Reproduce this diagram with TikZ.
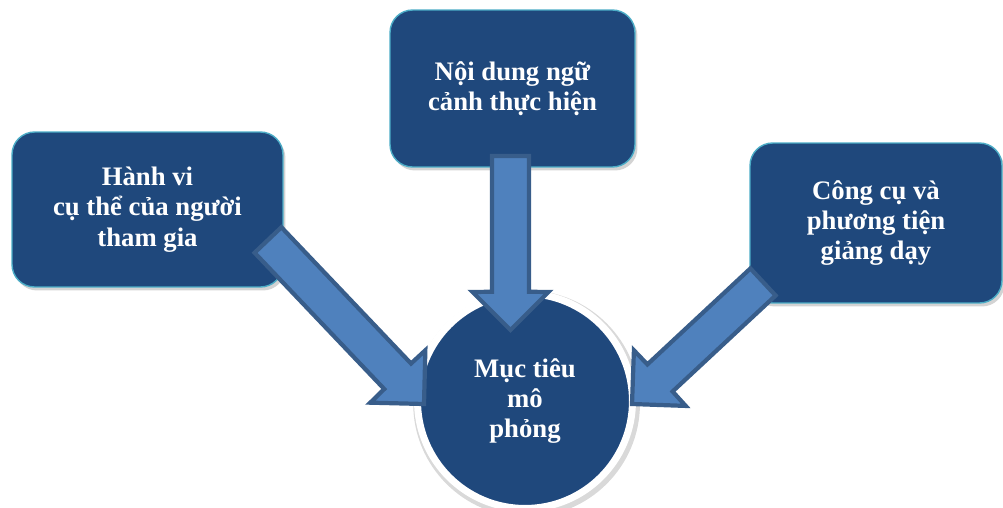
\documentclass[tikz,border=0pt]{standalone}
\usepackage{fontspec}
\setmainfont{Liberation Serif}
\usetikzlibrary{positioning, calc, shadows}

\definecolor{navy}{HTML}{1F487C}
\definecolor{rim}{HTML}{4BACC6}
\definecolor{arrowfill}{HTML}{4F81BD}
\definecolor{arrowedge}{HTML}{385D8A}

\begin{document}
\begin{tikzpicture}[x=0.02cm, y=-0.02cm,
		box/.style={rectangle, rounded corners=0.45cm, fill=navy, draw=rim, line width=0.8pt,
			text=white, align=center, font=\fontsize{15.2}{17.2}\selectfont\bfseries,
			drop shadow={opacity=0.35, shadow xshift=0.05cm, shadow yshift=-0.07cm}},
		goal/.style={circle, fill=navy, draw=white, line width=0.14cm, minimum size=4.3cm,
			text=white, align=center, font=\fontsize{15.2}{17.2}\selectfont\bfseries,
			drop shadow={opacity=0.3, shadow scale=1.055, shadow xshift=0.03cm, shadow yshift=-0.05cm}},
		bigarrow/.style={fill=arrowfill, draw=arrowedge, line width=2.4pt, line join=miter}]
			\useasboundingbox (0,0) rectangle (1003,507);

			\node[box, minimum width=5.42cm, minimum height=3.1cm] (hv) at (147.5,209.5) {Hành vi\\cụ thể của người\\tham gia};
			\node[box, minimum width=4.9cm, minimum height=3.14cm] (nd) at (512.5,88.5) {Nội dung ngữ\\cảnh thực hiện};
			\node[box, minimum width=5.04cm, minimum height=3.2cm] (cc) at (876,223) {Công cụ và\\phương tiện\\giảng dạy};
			\node[goal] (mt) at (525,401) {Mục tiêu\\mô\\phỏng};

			% tails sit inside the boxes, tips touch the circle
			\coordinate (hv-tail) at (268,240);
			\coordinate (hv-tip) at (424,404);
			\coordinate (nd-tail) at (510.5,156);
			\coordinate (nd-tip) at (510.5,330);
			\coordinate (cc-tail) at (763,282);
			\coordinate (cc-tip) at (632,404);

			\foreach \t/\h in {hv-tail/hv-tip, nd-tail/nd-tip, cc-tail/cc-tip}
				\draw[bigarrow] ($(\t)!0.37cm!90:(\h)$) -- ($(\h)!0.85cm!-25.8:(\t)$)
					-- ($(\h)!1.075cm!-45:(\t)$) -- (\h) -- ($(\h)!1.075cm!45:(\t)$)
					-- ($(\h)!0.85cm!25.8:(\t)$) -- ($(\t)!0.37cm!-90:(\h)$) -- cycle;
		\end{tikzpicture}
\end{document}
